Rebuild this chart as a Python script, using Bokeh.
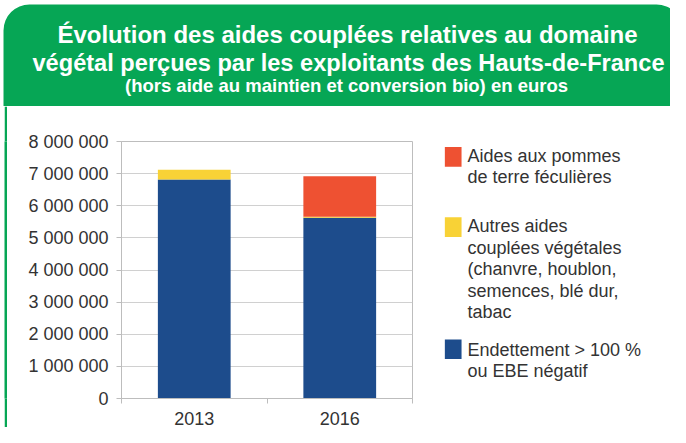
from bokeh.plotting import figure
from bokeh.models import ColumnDataSource, Range1d, FixedTicker, BoxAnnotation, Spacer
from bokeh.layouts import column, row
from bokeh.embed import file_html
from bokeh.resources import INLINE
from bokeh.core.properties import value
from bokeh.core.validation import silence
from bokeh.core.validation.warnings import MISSING_RENDERERS

silence(MISSING_RENDERERS, True)

# ---------------- data ----------------
years = ["2013", "2016"]
endettement = [6820000, 5630000]
autres = [300000, 30000]
pommes = [0, 1260000]

series_keys = ["endettement", "autres", "pommes"]
series_colors = ["#1D4C8C", "#F8D236", "#EE5132"]
series_labels = [
    "Endettement > 100 %\nou EBE négatif",
    "Autres aides\ncouplées végétales\n(chanvre, houblon,\nsemences, blé dur,\ntabac",
    "Aides aux pommes\nde terre féculières",
]

y_ticks = [0, 1000000, 2000000, 3000000, 4000000, 5000000, 6000000, 7000000, 8000000]
y_tick_labels = ["0", "1 000 000", "2 000 000", "3 000 000", "4 000 000",
                 "5 000 000", "6 000 000", "7 000 000", "8 000 000"]

title_line1 = "Évolution des aides couplées relatives au domaine"
title_line2 = "végétal perçues par les exploitants des Hauts-de-France"
subtitle = "(hors aide au maintien et conversion bio) en euros"

# ---------------- styles ----------------
GREEN = "#06A655"
TXT = "#333333"
GRID = "#D0D0D0"
AXIS = "#BDBDBD"
FONT = "Liberation Sans"

W, H = 670, 427
HEAD_H = 106
ROW_H = H - HEAD_H
MB_TOP, MB_BOTTOM = 35, 25

# ---------------- header ----------------
hd = figure(width=W, height=HEAD_H, x_range=Range1d(0, W), y_range=Range1d(HEAD_H, 0),
            min_border=0, toolbar_location=None, output_backend="svg",
            x_axis_type=None, y_axis_type=None, outline_line_color=None)
hd.add_layout(BoxAnnotation(left=3, right=W + 12, top=4, bottom=HEAD_H,
                            fill_color=GREEN, fill_alpha=1.0, line_color=None,
                            border_radius=(26, 26, 0, 0), level="underlay"))
hd.text(x=[347], y=[34], text=[title_line1], text_align="center", text_baseline="alphabetic",
        text_font=value(FONT), text_font_style="bold", text_font_size="24px", text_color="white")
hd.text(x=[348], y=[62], text=[title_line2], text_align="center", text_baseline="alphabetic",
        text_font=value(FONT), text_font_style="bold", text_font_size="23.6px", text_color="white")
hd.text(x=[346], y=[85], text=[subtitle], text_align="center", text_baseline="alphabetic",
        text_font=value(FONT), text_font_style="bold", text_font_size="18.5px", text_color="white")

# ---------------- left green strip ----------------
pad = Spacer(width=4, height=ROW_H)
strip = figure(width=3, height=ROW_H, min_border=0, toolbar_location=None, output_backend="svg",
               x_axis_type=None, y_axis_type=None, outline_line_color=None,
               background_fill_color=GREEN, border_fill_color=GREEN)

# ---------------- chart ----------------
xs = [i + 0.5 for i in range(len(years))]
src = ColumnDataSource(dict(x=xs, endettement=endettement, autres=autres, pommes=pommes))

p = figure(width=413, height=ROW_H, x_range=Range1d(0, len(years)), y_range=Range1d(0, 8000000),
           min_border_left=114, min_border_right=8, min_border_top=MB_TOP, min_border_bottom=MB_BOTTOM,
           toolbar_location=None, output_backend="svg", outline_line_color=AXIS)
p.vbar_stack(series_keys, x="x", width=0.5, color=series_colors, source=src, line_width=0)

p.xgrid.visible = False
p.ygrid.grid_line_color = GRID

p.yaxis.ticker = FixedTicker(ticks=y_ticks)
p.yaxis.major_label_overrides = {t: l for t, l in zip(y_ticks, y_tick_labels)}
p.yaxis.axis_line_color = AXIS
p.yaxis.major_tick_line_color = AXIS
p.yaxis.major_tick_out = 5
p.yaxis.major_tick_in = 0
p.yaxis.minor_tick_line_color = None
p.yaxis.major_label_standoff = 8

p.xaxis.ticker = FixedTicker(ticks=xs, minor_ticks=list(range(len(years) + 1)))
p.xaxis.major_label_overrides = {x: y for x, y in zip(xs, years)}
p.xaxis.axis_line_color = AXIS
p.xaxis.major_tick_line_color = None
p.xaxis.major_tick_out = 0
p.xaxis.major_tick_in = 0
p.xaxis.minor_tick_line_color = AXIS
p.xaxis.minor_tick_out = 5
p.xaxis.minor_tick_in = 0
p.xaxis.major_label_standoff = 8

for ax in (p.xaxis, p.yaxis):
    ax.major_label_text_font = FONT
    ax.major_label_text_font_size = "18px"
    ax.major_label_text_color = TXT

# ---------------- legend ----------------
LG_W = W - 4 - 3 - 413
lg = figure(width=LG_W, height=ROW_H, x_range=Range1d(0, LG_W), y_range=Range1d(ROW_H - MB_BOTTOM, MB_TOP),
            min_border_left=0, min_border_right=0, min_border_top=MB_TOP, min_border_bottom=MB_BOTTOM,
            toolbar_location=None, output_backend="svg",
            x_axis_type=None, y_axis_type=None, outline_line_color=None)
leg_colors = list(reversed(series_colors))
leg_labels = list(reversed(series_labels))
lg.rect(x=32.7, y=[50.7, 122, 246], width=16.7, height=20, fill_color=leg_colors, line_color=None)
lg.text(x=47, y=[60.2, 164.7, 257.5], text=leg_labels, text_align="left", text_baseline="middle",
        text_font=value(FONT), text_font_size="18px", text_line_height=1.08, text_color=TXT)

layout = column(hd, row(pad, strip, p, lg))

open("out.html", "w").write(file_html(layout, INLINE))
